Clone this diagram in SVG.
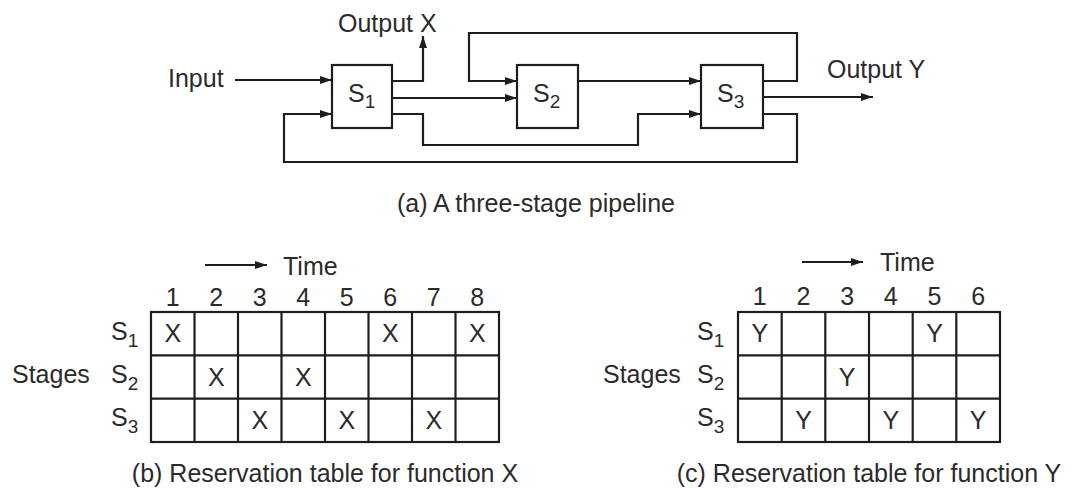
<svg xmlns="http://www.w3.org/2000/svg" width="1073" height="488" viewBox="0 0 1073 488">
  <style>
    .t { font-family: "Liberation Sans", Arial, Helvetica, sans-serif; font-size: 25px; fill: #2b2b2b; }
    .sub { font-size: 19px; }
    .mid { text-anchor: middle; }
    .end { text-anchor: end; }
    .box { fill: #ffffff; stroke: #1e1e1e; stroke-width: 2.2; }
    .wire { fill: none; stroke: #1e1e1e; stroke-width: 2.2; }
    .arr { marker-end: url(#head); }
    .grid { fill: none; stroke: #1e1e1e; stroke-width: 2.2; }
  </style>
  <defs>
    <marker id="head" markerUnits="userSpaceOnUse" markerWidth="13" markerHeight="9" refX="12" refY="4" orient="auto">
      <path d="M0,0 L12,4 L0,8 z" fill="#1e1e1e"/>
    </marker>
  </defs>

  <rect width="1073" height="488" fill="#ffffff"/>

  <!-- (a) pipeline connectors -->
  <g id="connectors">
    <!-- input to S1 -->
    <line class="wire arr" x1="235" y1="80" x2="332" y2="80"/>
    <!-- S1 to Output X -->
    <polyline class="wire arr" points="392,81 423,81 423,36"/>
    <!-- S1 to S2 -->
    <line class="wire arr" x1="392" y1="98" x2="517" y2="98"/>
    <!-- S1 to S3 lower input -->
    <polyline class="wire arr" points="392,114 423,114 423,145 638,145 638,114 701,114"/>
    <!-- S2 to S3 -->
    <line class="wire arr" x1="578" y1="81" x2="701" y2="81"/>
    <!-- S3 back to S2 over the top -->
    <polyline class="wire arr" points="763,81 797,81 797,33 469,33 469,81 517,81"/>
    <!-- S3 to Output Y -->
    <line class="wire arr" x1="763" y1="97" x2="873" y2="97"/>
    <!-- S3 back to S1 along the bottom -->
    <polyline class="wire arr" points="763,114 797,114 797,162 284,162 284,114 332,114"/>
  </g>

  <g id="label-input"><text class="t" x="168" y="87">Input</text></g>
  <g id="label-output-x"><text class="t" x="338" y="32">Output X</text></g>
  <g id="label-output-y"><text class="t" x="827" y="78">Output Y</text></g>

  <g id="stage-s1">
    <rect class="box" x="332" y="65" width="60" height="63"/>
    <text class="t" x="348" y="102">S<tspan class="sub" dy="6">1</tspan></text>
  </g>
  <g id="stage-s2">
    <rect class="box" x="517" y="65" width="61" height="63"/>
    <text class="t" x="533" y="102">S<tspan class="sub" dy="6">2</tspan></text>
  </g>
  <g id="stage-s3">
    <rect class="box" x="701" y="65" width="62" height="63"/>
    <text class="t" x="717" y="102">S<tspan class="sub" dy="6">3</tspan></text>
  </g>

  <g id="caption-a"><text class="t" x="397" y="212">(a) A three-stage pipeline</text></g>

  <!-- (b) reservation table for function X -->
  <g id="table-x">
    <line class="wire arr" x1="205" y1="265" x2="267" y2="265"/>
    <text class="t" x="283" y="275">Time</text>
    <g class="t mid">
      <text x="172.8" y="306">1</text>
      <text x="216.3" y="306">2</text>
      <text x="259.8" y="306">3</text>
      <text x="303.3" y="306">4</text>
      <text x="346.8" y="306">5</text>
      <text x="390.3" y="306">6</text>
      <text x="433.8" y="306">7</text>
      <text x="477.3" y="306">8</text>
    </g>
    <text class="t" x="12" y="383">Stages</text>
    <text class="t" x="111" y="340">S<tspan class="sub" dy="7">1</tspan></text>
    <text class="t" x="111" y="383">S<tspan class="sub" dy="7">2</tspan></text>
    <text class="t" x="111" y="426">S<tspan class="sub" dy="7">3</tspan></text>
    <g class="grid">
      <rect x="151" y="312" width="348" height="130"/>
      <line x1="151" y1="355.3" x2="499" y2="355.3"/>
      <line x1="151" y1="398.7" x2="499" y2="398.7"/>
      <line x1="194.5" y1="312" x2="194.5" y2="442"/>
      <line x1="238" y1="312" x2="238" y2="442"/>
      <line x1="281.5" y1="312" x2="281.5" y2="442"/>
      <line x1="325" y1="312" x2="325" y2="442"/>
      <line x1="368.5" y1="312" x2="368.5" y2="442"/>
      <line x1="412" y1="312" x2="412" y2="442"/>
      <line x1="455.5" y1="312" x2="455.5" y2="442"/>
    </g>
    <g class="t mid">
      <text x="172.8" y="342">X</text>
      <text x="390.3" y="342">X</text>
      <text x="477.3" y="342">X</text>
      <text x="216.3" y="385.5">X</text>
      <text x="303.3" y="385.5">X</text>
      <text x="259.8" y="429">X</text>
      <text x="346.8" y="429">X</text>
      <text x="433.8" y="429">X</text>
    </g>
  </g>
  <g id="caption-b"><text class="t mid" x="325" y="482">(b) Reservation table for function X</text></g>

  <!-- (c) reservation table for function Y -->
  <g id="table-y">
    <line class="wire arr" x1="802" y1="262" x2="863" y2="262"/>
    <text class="t" x="880" y="271">Time</text>
    <g class="t mid">
      <text x="759.8" y="305">1</text>
      <text x="803.5" y="305">2</text>
      <text x="847.2" y="305">3</text>
      <text x="890.8" y="305">4</text>
      <text x="934.5" y="305">5</text>
      <text x="978.2" y="305">6</text>
    </g>
    <text class="t" x="603" y="383">Stages</text>
    <text class="t" x="697" y="340">S<tspan class="sub" dy="7">1</tspan></text>
    <text class="t" x="697" y="383">S<tspan class="sub" dy="7">2</tspan></text>
    <text class="t" x="697" y="426">S<tspan class="sub" dy="7">3</tspan></text>
    <g class="grid">
      <rect x="738" y="312" width="262" height="130"/>
      <line x1="738" y1="355.3" x2="1000" y2="355.3"/>
      <line x1="738" y1="398.7" x2="1000" y2="398.7"/>
      <line x1="781.7" y1="312" x2="781.7" y2="442"/>
      <line x1="825.3" y1="312" x2="825.3" y2="442"/>
      <line x1="869" y1="312" x2="869" y2="442"/>
      <line x1="912.7" y1="312" x2="912.7" y2="442"/>
      <line x1="956.3" y1="312" x2="956.3" y2="442"/>
    </g>
    <g class="t mid">
      <text x="759.8" y="342">Y</text>
      <text x="934.5" y="342">Y</text>
      <text x="847.2" y="385.5">Y</text>
      <text x="803.5" y="429">Y</text>
      <text x="890.8" y="429">Y</text>
      <text x="978.2" y="429">Y</text>
    </g>
  </g>
  <g id="caption-c"><text class="t mid" x="869" y="482">(c) Reservation table for function Y</text></g>
</svg>
